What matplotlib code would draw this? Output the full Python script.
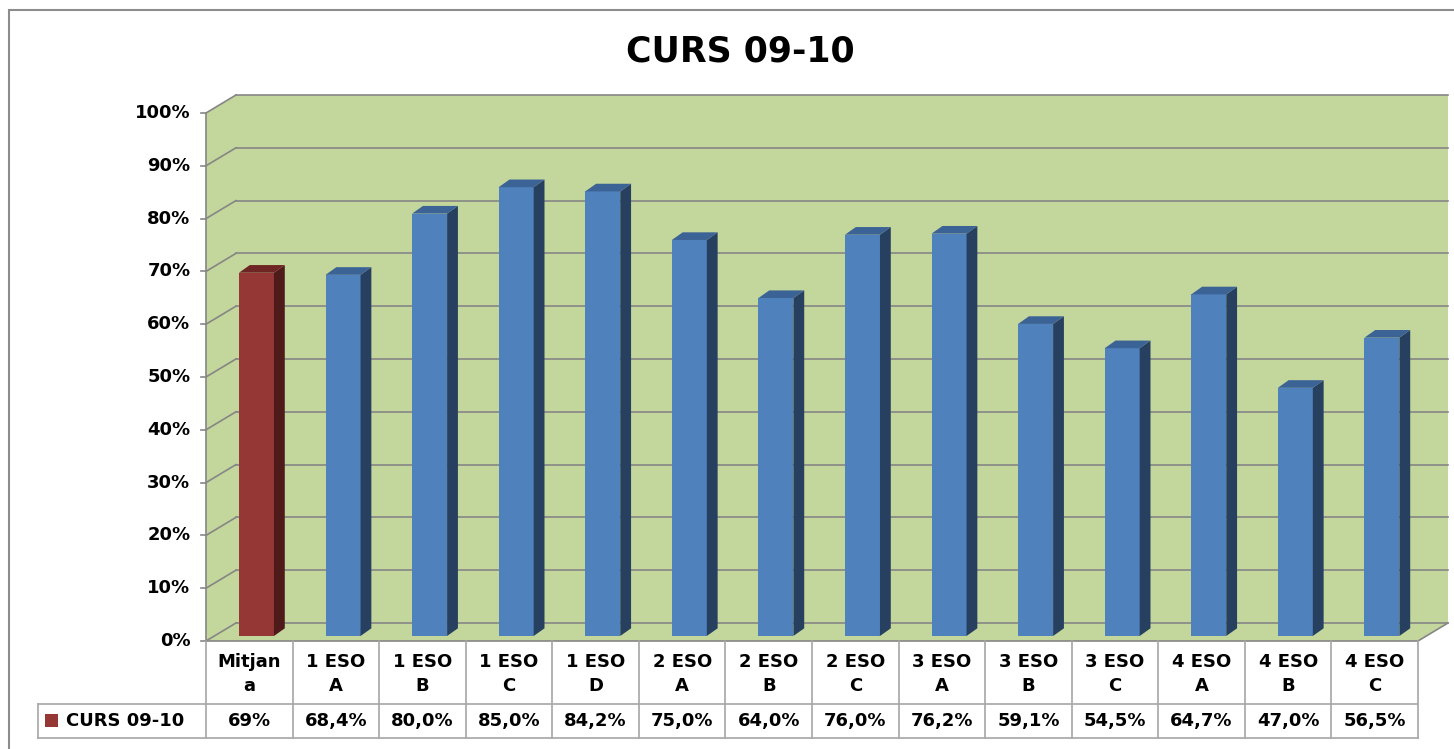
import matplotlib
matplotlib.use("Agg")
import matplotlib.pyplot as plt
from matplotlib.patches import Polygon, Rectangle
from matplotlib.transforms import blended_transform_factory
import numpy as np

# data
categories = ["Mitjan\na", "1 ESO\nA", "1 ESO\nB", "1 ESO\nC", "1 ESO\nD",
              "2 ESO\nA", "2 ESO\nB", "2 ESO\nC", "3 ESO\nA", "3 ESO\nB",
              "3 ESO\nC", "4 ESO\nA", "4 ESO\nB", "4 ESO\nC"]
values = [68.8, 68.4, 80.0, 85.0, 84.2, 75.0, 64.0, 76.0, 76.2, 59.1,
          54.5, 64.7, 47.0, 56.5]
value_labels = ["69%", "68,4%", "80,0%", "85,0%", "84,2%", "75,0%", "64,0%",
                "76,0%", "76,2%", "59,1%", "54,5%", "64,7%", "47,0%", "56,5%"]
series_name = "CURS 09-10"
title = "CURS 09-10"
yticks = np.arange(0, 101, 10)

plt.rcParams['font.family'] = ['DejaVu Sans']

W, H = 1454, 749
fig = plt.figure(figsize=(W / 100, H / 100), dpi=100)

def fx(px):
    return px / W

def fy(py):
    return 1 - py / H

# axes = front plane of the 3d box
ax = fig.add_axes([fx(206), fy(641), fx(1418) - fx(206), fy(113) - fy(641)])
ax.set_xlim(-0.5, 13.5)
ax.set_ylim(0, 100)
ax.axis("off")

# 3d offsets (data units)
wall_dx, wall_dy = 0.346, 3.41
bar_ox, bar_oy = 0.083, 0.95
side_dx, side_dy = 0.125, 1.45
bar_w = 0.404

green = "#C3D69B"
grid_c = "#868686"

x0, x1 = -0.5, 13.5
# floor, side wall, back wall
ax.add_patch(Polygon([(x0, 0), (x1, 0), (x1 + wall_dx, wall_dy), (x0 + wall_dx, wall_dy)],
                     closed=True, fc=green, ec="none", clip_on=False, zorder=0))
ax.add_patch(Polygon([(x0, 0), (x0, 100), (x0 + wall_dx, 100 + wall_dy), (x0 + wall_dx, wall_dy)],
                     closed=True, fc=green, ec="none", clip_on=False, zorder=0))
ax.add_patch(Rectangle((x0 + wall_dx, wall_dy), x1 - x0, 100, fc=green, ec="none",
                       clip_on=False, zorder=0))

# gridlines
for v in yticks:
    ax.plot([x0 + wall_dx, x1 + wall_dx], [v + wall_dy, v + wall_dy], color=grid_c,
            lw=1.2, clip_on=False, zorder=1)
    ax.plot([x0, x0 + wall_dx], [v, v + wall_dy], color=grid_c, lw=1.2,
            clip_on=False, zorder=1)
    ax.plot([x0 - 0.06, x0], [v, v], color=grid_c, lw=1.2, clip_on=False, zorder=1)
    ax.text(x0 - 0.18, v, f"{v}%", ha="right", va="center", fontsize=13,
            fontweight="bold", clip_on=False)
ax.plot([x0, x0], [0, 100], color=grid_c, lw=1.2, clip_on=False, zorder=1)
ax.plot([x0, x1, x1 + wall_dx], [0, 0, wall_dy], color=grid_c, lw=1.2,
        clip_on=False, zorder=1)

# bars
for i, v in enumerate(values):
    if i == 0:
        front, side, top = "#953735", "#4F1A1A", "#6E2624"
    else:
        front, side, top = "#4F81BD", "#28405F", "#3C6396"
    left = i - 0.5 + 0.381
    ax.bar(left, v, width=bar_w, bottom=bar_oy, align="edge", color=front,
           edgecolor="none", zorder=3)
    right = left + bar_w
    tp = v + bar_oy
    ax.add_patch(Polygon([(right, bar_oy), (right + side_dx, bar_oy + side_dy),
                          (right + side_dx, tp + side_dy), (right, tp)],
                         closed=True, fc=side, ec="none", zorder=3))
    ax.add_patch(Polygon([(left, tp), (left + side_dx, tp + side_dy),
                          (right + side_dx, tp + side_dy), (right, tp)],
                         closed=True, fc=top, ec="none", zorder=3))

# data table
tr = blended_transform_factory(ax.transData, fig.transFigure)
tc = "#A6A6A6"
y_head_top, y_row_top, y_row_bot = fy(641), fy(704), fy(738)
for k in range(15):
    xe = k - 0.5
    fig.add_artist(plt.Line2D([xe, xe], [y_head_top, y_row_bot], transform=tr,
                              color=tc, lw=1.2))
fig.add_artist(plt.Line2D([fx(38), fx(1418)], [y_row_top, y_row_top], color=tc, lw=1.2))
fig.add_artist(plt.Line2D([fx(38), fx(1418)], [y_row_bot, y_row_bot], color=tc, lw=1.2))
fig.add_artist(plt.Line2D([fx(38), fx(38)], [y_row_top, y_row_bot], color=tc, lw=1.2))

for i, (c, lab) in enumerate(zip(categories, value_labels)):
    fig.text(i, fy(674), c, transform=tr, ha="center",
             va="center", fontsize=13, fontweight="bold", linespacing=1.45)
    fig.text(i, (y_row_top + y_row_bot) / 2, lab, transform=tr, ha="center",
             va="center", fontsize=13, fontweight="bold")

fig.add_artist(Rectangle((fx(45), fy(727)), fx(13), fy(714) - fy(727),
                         transform=fig.transFigure, fc="#953735", ec="none"))
fig.text(fx(66), (y_row_top + y_row_bot) / 2, series_name, ha="left", va="center",
         fontsize=13, fontweight="bold")

# title
fig.text(fx(740), fy(51), title, ha="center", va="center", fontsize=25,
         fontweight="bold")

# chart border
fig.add_artist(Rectangle((fx(9), fy(770)), fx(1480), fy(10) - fy(770),
                         transform=fig.transFigure, fc="none", ec="#8C8C8C", lw=1.5))

fig.savefig("out.png", dpi=100)
